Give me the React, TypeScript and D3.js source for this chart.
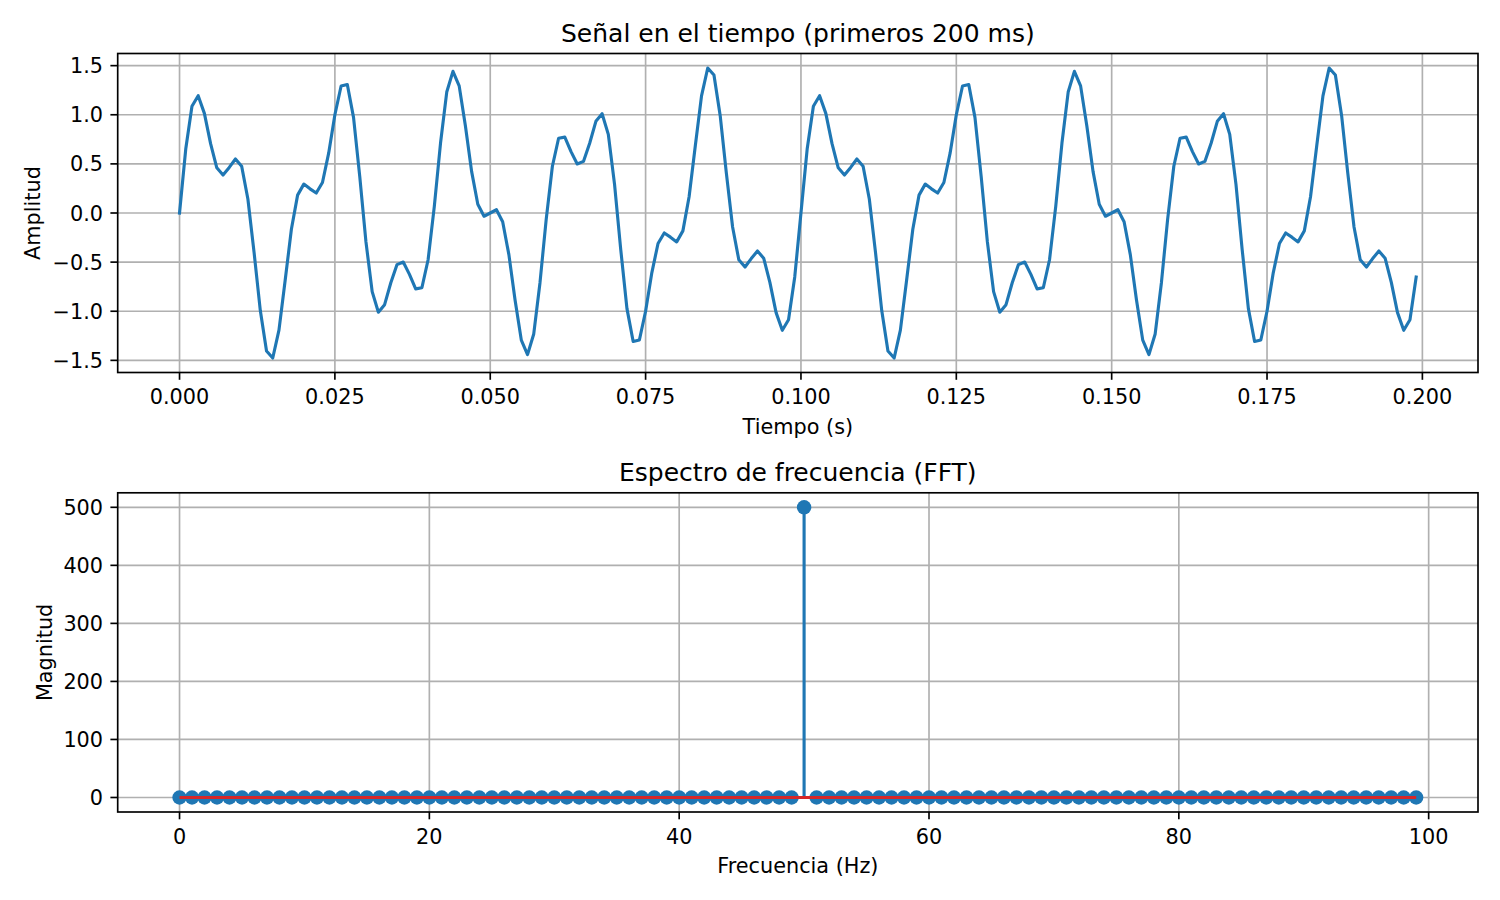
import React from 'react';
import * as d3 from 'd3';

// ---------- data ----------
const signal = [
  0, 0.651, 1.087, 1.194, 1.014, 0.706, 0.46, 0.387, 0.464, 0.55,
  0.476, 0.143, -0.404, -0.993, -1.404, -1.476, -1.192, -0.685, -0.166, 0.182,
  0.294, 0.246, 0.203, 0.31, 0.609, 1.0, 1.293, 1.308, 0.973, 0.372,
  -0.294, -0.8, -1.01, -0.933, -0.71, -0.525, -0.499, -0.625, -0.772, -0.761,
  -0.476, 0.068, 0.712, 1.231, 1.442, 1.294, 0.888, 0.424, 0.089, -0.033,
  0, 0.033, -0.089, -0.424, -0.888, -1.294, -1.442, -1.231, -0.712, -0.068,
  0.476, 0.761, 0.772, 0.625, 0.499, 0.525, 0.71, 0.933, 1.01, 0.8,
  0.294, -0.372, -0.973, -1.308, -1.293, -1.0, -0.609, -0.31, -0.203, -0.246,
  -0.294, -0.182, 0.166, 0.685, 1.192, 1.476, 1.404, 0.993, 0.404, -0.143,
  -0.476, -0.55, -0.464, -0.387, -0.46, -0.706, -1.014, -1.194, -1.087, -0.651,
  0, 0.651, 1.087, 1.194, 1.014, 0.706, 0.46, 0.387, 0.464, 0.55,
  0.476, 0.143, -0.404, -0.993, -1.404, -1.476, -1.192, -0.685, -0.166, 0.182,
  0.294, 0.246, 0.203, 0.31, 0.609, 1.0, 1.293, 1.308, 0.973, 0.372,
  -0.294, -0.8, -1.01, -0.933, -0.71, -0.525, -0.499, -0.625, -0.772, -0.761,
  -0.476, 0.068, 0.712, 1.231, 1.442, 1.294, 0.888, 0.424, 0.089, -0.033,
  0, 0.033, -0.089, -0.424, -0.888, -1.294, -1.442, -1.231, -0.712, -0.068,
  0.476, 0.761, 0.772, 0.625, 0.499, 0.525, 0.71, 0.933, 1.01, 0.8,
  0.294, -0.372, -0.973, -1.308, -1.293, -1.0, -0.609, -0.31, -0.203, -0.246,
  -0.294, -0.182, 0.166, 0.685, 1.192, 1.476, 1.404, 0.993, 0.404, -0.143,
  -0.476, -0.55, -0.464, -0.387, -0.46, -0.706, -1.014, -1.194, -1.087, -0.651,
];
const sampleRateHz = 1000;

const magnitudes = [
  0, 0, 0, 0, 0, 0, 0, 0, 0, 0,
  0, 0, 0, 0, 0, 0, 0, 0, 0, 0,
  0, 0, 0, 0, 0, 0, 0, 0, 0, 0,
  0, 0, 0, 0, 0, 0, 0, 0, 0, 0,
  0, 0, 0, 0, 0, 0, 0, 0, 0, 0,
  500, 0, 0, 0, 0, 0, 0, 0, 0, 0,
  0, 0, 0, 0, 0, 0, 0, 0, 0, 0,
  0, 0, 0, 0, 0, 0, 0, 0, 0, 0,
  0, 0, 0, 0, 0, 0, 0, 0, 0, 0,
  0, 0, 0, 0, 0, 0, 0, 0, 0, 0,
];

const timeTicks = [0, 0.025, 0.05, 0.075, 0.1, 0.125, 0.15, 0.175, 0.2];
const ampTicks = [-1.5, -1.0, -0.5, 0, 0.5, 1.0, 1.5];
const freqTicks = [0, 20, 40, 60, 80, 100];
const magTicks = [0, 100, 200, 300, 400, 500];

const titleTop = 'Señal en el tiempo (primeros 200 ms)';
const titleBottom = 'Espectro de frecuencia (FFT)';
const xLabelTop = 'Tiempo (s)';
const yLabelTop = 'Amplitud';
const xLabelBottom = 'Frecuencia (Hz)';
const yLabelBottom = 'Magnitud';

// ---------- style ----------
const BLUE = '#1f77b4';
const RED = '#d62728';
const GRID = '#b0b0b0';
const FONT = "'DejaVu Sans', sans-serif";
const TICK_FS = 20.8;
const TITLE_FS = 25;
const LW = 3.125;
const THIN = 1.667;
const TICK_LEN = 7.3;

const L = 117.7;
const R = 1478;

function withMargin(lo: number, hi: number): [number, number] {
  const m = (hi - lo) * 0.05;
  return [lo - m, hi + m];
}

type AxesProps = {
  top: number;
  bottom: number;
  x: d3.ScaleLinear<number, number>;
  y: d3.ScaleLinear<number, number>;
  xTicks: number[];
  yTicks: number[];
  xFmt: (v: number) => string;
  yFmt: (v: number) => string;
  title: string;
  xLabel: string;
  yLabel: string;
  yLabelX: number;
  children?: React.ReactNode;
};

function Axes(p: AxesProps) {
  const { top, bottom, x, y } = p;
  return (
    <g>
      {p.xTicks.map((t) => (
        <line key={'gx' + t} x1={x(t)} x2={x(t)} y1={top} y2={bottom} stroke={GRID} strokeWidth={THIN} />
      ))}
      {p.yTicks.map((t) => (
        <line key={'gy' + t} x1={L} x2={R} y1={y(t)} y2={y(t)} stroke={GRID} strokeWidth={THIN} />
      ))}
      {p.children}
      <rect x={L} y={top} width={R - L} height={bottom - top} fill="none" stroke="#000" strokeWidth={THIN} />
      {p.xTicks.map((t) => (
        <g key={'tx' + t}>
          <line x1={x(t)} x2={x(t)} y1={bottom} y2={bottom + TICK_LEN} stroke="#000" strokeWidth={THIN} />
          <text x={x(t)} y={bottom + 31.7} textAnchor="middle" fontSize={TICK_FS} fontFamily={FONT} fill="#000">
            {p.xFmt(t)}
          </text>
        </g>
      ))}
      {p.yTicks.map((t) => (
        <g key={'ty' + t}>
          <line x1={L - TICK_LEN} x2={L} y1={y(t)} y2={y(t)} stroke="#000" strokeWidth={THIN} />
          <text x={L - 14.6} y={y(t) + 7.6} textAnchor="end" fontSize={TICK_FS} fontFamily={FONT} fill="#000">
            {p.yFmt(t)}
          </text>
        </g>
      ))}
      <text x={(L + R) / 2} y={top - 12} textAnchor="middle" fontSize={TITLE_FS} fontFamily={FONT} fill="#000">
        {p.title}
      </text>
      <text x={(L + R) / 2} y={bottom + 61} textAnchor="middle" fontSize={TICK_FS} fontFamily={FONT} fill="#000">
        {p.xLabel}
      </text>
      <text
        transform={`translate(${p.yLabelX},${(top + bottom) / 2}) rotate(-90)`}
        textAnchor="middle"
        fontSize={TICK_FS}
        fontFamily={FONT}
        fill="#000"
      >
        {p.yLabel}
      </text>
    </g>
  );
}

export default function App() {
  const times = signal.map((_, i) => i / sampleRateHz);
  const freqs = magnitudes.map((_, i) => i);

  const t1 = 53.5;
  const b1 = 372.5;
  const x1 = d3.scaleLinear().domain(withMargin(d3.min(times)!, d3.max(times)!)).range([L, R]);
  const y1 = d3.scaleLinear().domain(withMargin(d3.min(signal)!, d3.max(signal)!)).range([b1, t1]);
  const linePath = d3
    .line<number>()
    .x((_, i) => x1(times[i]))
    .y((d) => y1(d))(signal) as string;

  const t2 = 492.8;
  const b2 = 812;
  const x2 = d3.scaleLinear().domain(withMargin(d3.min(freqs)!, d3.max(freqs)!)).range([L, R]);
  const y2 = d3.scaleLinear().domain(withMargin(0, d3.max(magnitudes)!)).range([b2, t2]);

  const fmt3 = d3.format('.3f');
  const fmt1 = d3.format('.1f');
  const fmt0 = d3.format('d');

  return (
    <svg
      width={1500}
      height={900}
      style={{ position: 'absolute', left: 0, top: 0, background: '#fff' }}
    >
      <rect x={0} y={0} width={1500} height={900} fill="#fff" />
      <Axes
        top={t1}
        bottom={b1}
        x={x1}
        y={y1}
        xTicks={timeTicks}
        yTicks={ampTicks}
        xFmt={fmt3}
        yFmt={fmt1}
        title={titleTop}
        xLabel={xLabelTop}
        yLabel={yLabelTop}
        yLabelX={40}
      >
        <path
          d={linePath}
          fill="none"
          stroke={BLUE}
          strokeWidth={LW}
          strokeLinejoin="round"
          strokeLinecap="square"
        />
      </Axes>
      <Axes
        top={t2}
        bottom={b2}
        x={x2}
        y={y2}
        xTicks={freqTicks}
        yTicks={magTicks}
        xFmt={fmt0}
        yFmt={fmt0}
        title={titleBottom}
        xLabel={xLabelBottom}
        yLabel={yLabelBottom}
        yLabelX={51.5}
      >
        <g>
          {magnitudes.map((m, i) => (
            <line
              key={'s' + i}
              x1={x2(freqs[i])}
              x2={x2(freqs[i])}
              y1={y2(0)}
              y2={y2(m)}
              stroke={BLUE}
              strokeWidth={LW}
            />
          ))}
          {magnitudes.map((m, i) => (
            <circle key={'m' + i} cx={x2(freqs[i])} cy={y2(m)} r={7.2} fill={BLUE} />
          ))}
          <line
            x1={x2(freqs[0])}
            x2={x2(freqs[freqs.length - 1])}
            y1={y2(0)}
            y2={y2(0)}
            stroke={RED}
            strokeWidth={LW}
          />
        </g>
      </Axes>
    </svg>
  );
}
